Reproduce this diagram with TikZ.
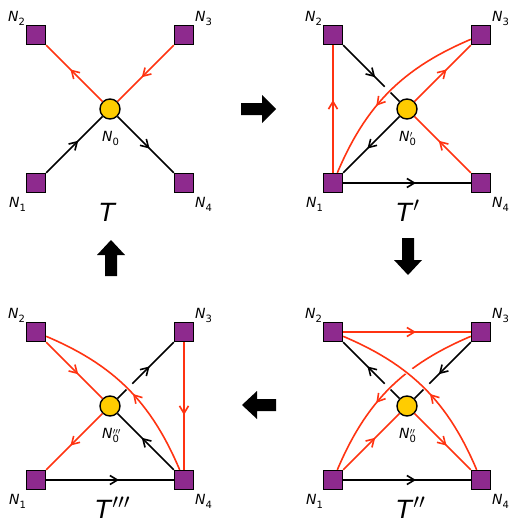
\documentclass[tikz,border=0pt]{standalone}
\usepackage{fontspec}
\setmainfont{DejaVu Sans}
\usetikzlibrary{arrows.meta,decorations.markings}
\definecolor{sqpurple}{HTML}{8E2A8E}
\definecolor{hubgold}{HTML}{FFCC00}
\definecolor{edgered}{HTML}{FF3311}
\newcommand\nlab[2]{\textit{N}\rlap{\raisebox{-0.5ex}{\fontsize{10}{10}\selectfont #1}}\rlap{\kern0.3pt\fontsize{13}{13}\selectfont$^{#2}$}\hphantom{\fontsize{10}{10}\selectfont #1}}
\newcommand\tlab[1]{\textit{T}\rlap{\fontsize{32}{32}\selectfont$^{#1}$}}
\tikzset{
  sq/.style={rectangle, draw=black, fill=sqpurple, minimum size=19pt, inner sep=0pt, line width=1.4pt},
  hub/.style={circle, draw=black, fill=hubgold, minimum size=20pt, inner sep=0pt, line width=1.4pt},
  lab/.style={font=\fontsize{14}{14}\selectfont, inner sep=0pt, anchor=base west},
  ttl/.style={font=\fontsize{25}{25}\selectfont, inner sep=0pt, anchor=base},
  midarr/.style={postaction={decorate}, decoration={markings, mark=at position #1 with {\arrow{Straight Barb[length=7.5pt,width=9pt]}}}},
  midarr/.default=0.57,
  blk/.style={draw=black, line width=1.6pt, midarr},
  rdl/.style={draw=edgered, line width=1.6pt, midarr},
  rdc/.style={draw=edgered, line width=1.6pt, midarr=#1},
  halo/.style={preaction={draw=white, line width=8pt, shorten <=26pt, shorten >=26pt}},
  curv/.style={bend right=22},
  bigarrow/.style={fill=black}
}
\begin{document}
\begin{tikzpicture}[x=1pt,y=1pt]
\useasboundingbox (0,0) rectangle (518,-527);
% ---------- panel T ----------
\node[sq] (a2) at (36,-35) {};
\node[sq] (a3) at (184,-35) {};
\node[hub] (a0) at (110,-109) {};
\node[sq] (a1) at (36,-183) {};
\node[sq] (a4) at (184,-183) {};
\node[lab] (a2l) at (8,-21.5) {\nlab{2}{}};
\node[lab] (a3l) at (195,-21.5) {\nlab{3}{}};
\node[lab] (a1l) at (9,-207.5) {\nlab{1}{}};
\node[lab] (a4l) at (195,-207.5) {\nlab{4}{}};
\node[lab] (a0l) at (102,-141.5) {\nlab{0}{}};
\node[ttl] (at) at (108,-221) {\tlab{}};
\draw[rdl] (a0) -- (a2);
\draw[rdl] (a3) -- (a0);
\draw[blk] (a1) -- (a0);
\draw[blk] (a0) -- (a4);
% ---------- panel T' ----------
\begin{scope}[shift={(297,0)}]
\node[sq] (b2) at (36,-35) {};
\node[sq] (b3) at (184,-35) {};
\node[hub] (b0) at (110,-109) {};
\node[sq] (b1) at (36,-183) {};
\node[sq] (b4) at (184,-183) {};
\node[lab] (b2l) at (8,-21.5) {\nlab{2}{}};
\node[lab] (b3l) at (195,-21.5) {\nlab{3}{}};
\node[lab] (b1l) at (9,-207.5) {\nlab{1}{}};
\node[lab] (b4l) at (195,-207.5) {\nlab{4}{}};
\node[lab] (b0l) at (102,-141.5) {\nlab{0}{\prime}};
\node[ttl] (bt) at (108,-221) {\tlab{\prime}};
\draw[rdl] (b1) -- (b2);
\draw[blk] (b2) -- (b0);
\draw[rdl] (b0) -- (b3);
\draw[rdl] (b4) -- (b0);
\draw[blk] (b0) -- (b1);
\draw[blk] (b1) -- (b4);
\draw[rdc=0.6,halo] (b3) to[curv] (b1);
\end{scope}
% ---------- panel T'' ----------
\begin{scope}[shift={(297,-297)}]
\node[sq] (d2) at (36,-35) {};
\node[sq] (d3) at (184,-35) {};
\node[hub] (d0) at (110,-109) {};
\node[sq] (d1) at (36,-183) {};
\node[sq] (d4) at (184,-183) {};
\node[lab] (d2l) at (8,-21.5) {\nlab{2}{}};
\node[lab] (d3l) at (195,-21.5) {\nlab{3}{}};
\node[lab] (d1l) at (9,-207.5) {\nlab{1}{}};
\node[lab] (d4l) at (195,-207.5) {\nlab{4}{}};
\node[lab] (d0l) at (102,-141.5) {\nlab{0}{\prime\prime}};
\node[ttl] (dt) at (108,-221) {\tlab{\prime\prime}};
\draw[rdl] (d2) -- (d3);
\draw[blk] (d0) -- (d2);
\draw[blk] (d3) -- (d0);
\draw[rdl] (d1) -- (d0);
\draw[rdl] (d0) -- (d4);
\draw[blk] (d1) -- (d4);
\draw[rdc=0.6,halo] (d3) to[curv] (d1);
\draw[rdc=0.46,halo] (d4) to[curv] (d2);
\end{scope}
% ---------- panel T''' ----------
\begin{scope}[shift={(0,-297)}]
\node[sq] (c2) at (36,-35) {};
\node[sq] (c3) at (184,-35) {};
\node[hub] (c0) at (110,-109) {};
\node[sq] (c1) at (36,-183) {};
\node[sq] (c4) at (184,-183) {};
\node[lab] (c2l) at (8,-21.5) {\nlab{2}{}};
\node[lab] (c3l) at (195,-21.5) {\nlab{3}{}};
\node[lab] (c1l) at (9,-207.5) {\nlab{1}{}};
\node[lab] (c4l) at (195,-207.5) {\nlab{4}{}};
\node[lab] (c0l) at (102,-141.5) {\nlab{0}{\prime\prime\prime}};
\node[ttl] (ct) at (104,-221) {\tlab{\prime\prime\prime}};
\draw[rdl] (c2) -- (c0);
\draw[rdl] (c0) -- (c1);
\draw[blk] (c4) -- (c0);
\draw[blk] (c0) -- (c3);
\draw[rdl] (c3) -- (c4);
\draw[blk] (c1) -- (c4);
\draw[rdc=0.46,halo] (c4) to[curv] (c2);
\end{scope}
% ---------- transition arrows ----------
\fill[bigarrow] (241,-103) -- (262,-103) -- (262,-95) -- (276,-109) -- (262,-123) -- (262,-115) -- (241,-115) -- cycle;
\fill[bigarrow] (402,-238) -- (414,-238) -- (414,-260) -- (422,-260) -- (408,-275) -- (394,-260) -- (402,-260) -- cycle;
\fill[bigarrow] (111,-240) -- (125,-255) -- (117,-255) -- (117,-276) -- (105,-276) -- (105,-255) -- (97,-255) -- cycle;
\fill[bigarrow] (242,-405) -- (257,-391) -- (257,-399) -- (276,-399) -- (276,-411) -- (257,-411) -- (257,-419) -- cycle;
\end{tikzpicture}
\end{document}
